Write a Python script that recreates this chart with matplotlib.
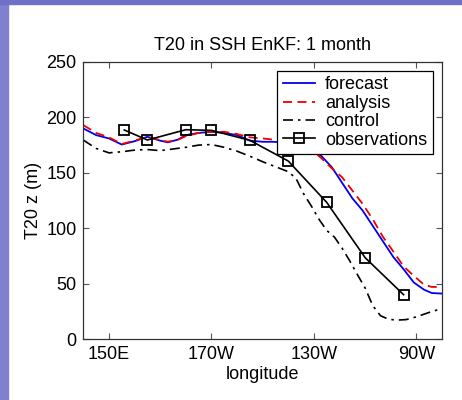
import numpy as np
import matplotlib
matplotlib.use("Agg")
import matplotlib.pyplot as plt
from matplotlib.patches import Rectangle

# longitude in degrees east (150E .. 90W -> 150 .. 270)
lon_model = [140, 145, 150, 155, 160, 165, 170, 173, 177, 180, 185, 190, 195, 200,
             205, 210, 214, 220, 225, 230, 233, 237, 241, 245, 249, 253, 257, 261,
             265, 269, 273, 276, 280]
forecast = [190, 184, 181, 175.5, 178.5, 182.5, 179, 177.5, 180, 184, 186, 187, 186, 184,
            179, 178, 178, 177, 174, 169, 165, 155, 141, 127, 116, 102, 88, 74,
            63, 51, 44.5, 41.5, 41]
analysis = [193, 186, 182, 176, 179, 182.5, 179.5, 178, 180, 183, 186, 187, 187, 185,
            182, 181, 180, 178, 175, 169, 163, 154, 146, 134, 122, 108, 92, 79,
            65.5, 57, 49, 47, 47]

lon_ctrl = [140, 145, 150, 155, 160, 165, 170, 175, 180, 185, 190, 195, 200, 205, 210,
            215, 220, 223, 226, 229, 232, 235, 238, 241, 244, 247, 250, 253, 256, 259,
            262, 266, 270, 275, 280]
control = [179.5, 172, 168, 169, 170.5, 171, 170, 171.5, 173, 175, 175.5, 173, 169.5, 165, 160,
           155.5, 151, 145, 131, 120, 108, 98, 92, 82, 70.5, 58, 46, 30, 21, 18,
           17, 17.5, 20, 24, 27.5]

# TAO mooring longitudes
lon_obs = [156, 165, 180, 190, 205, 220, 235, 250, 265]
obs = [188.6, 179.6, 188.9, 188.3, 179.3, 160.6, 123.3, 73.4, 40]

xticks = [150, 190, 230, 270]
xticklabels = ["150E", "170W", "130W", "90W"]
yticks = [0, 50, 100, 150, 200, 250]

plt.rcParams['font.family'] = ['Liberation Sans', 'DejaVu Sans']

fig = plt.figure(figsize=(4.62, 4.0), dpi=100)
fig.patch.set_facecolor('white')
# slide background strips
fig.patches.append(Rectangle((0, 0), 8 / 462, 1, transform=fig.transFigure,
                             color='#8080d0', zorder=0))
fig.patches.append(Rectangle((0, 1 - 4 / 400), 1, 4 / 400, transform=fig.transFigure,
                             color='#7070c8', zorder=0))

ax = fig.add_axes([0.1804, 0.1525, 0.7763, 0.6925])

ax.plot(lon_model, forecast, color='#0000ee', lw=1.3, label='forecast')
ax.plot(lon_model, analysis, color='#ee0000', lw=1.3, ls=(0, (5, 3)), label='analysis')
ax.plot(lon_ctrl, control, color='black', lw=1.2, ls=(0, (6, 3, 1.5, 3)), label='control')
ax.plot(lon_obs, obs, color='black', lw=1.2, marker='s', ms=7, mfc='none',
        mec='black', mew=1.3, label='observations')

ax.set_xlim(140, 280)
ax.set_ylim(0, 250)
ax.set_xticks(xticks)
ax.set_xticklabels(xticklabels)
ax.set_yticks(yticks)
ax.tick_params(direction='in', length=4, width=0.8, color='#555555',
               top=True, right=True, labelsize=13, pad=5)
for s in ax.spines.values():
    s.set_color('#333333')
    s.set_linewidth(0.9)

ax.set_title('T20 in SSH EnKF: 1 month', fontsize=13, pad=9)
ax.set_xlabel('longitude', fontsize=13, labelpad=2)
ax.set_ylabel('T20 z (m)', fontsize=13, labelpad=3)

leg = ax.legend(loc='upper right', bbox_to_anchor=(0.974, 0.9675), borderaxespad=0,
                fontsize=13, fancybox=False, framealpha=1, edgecolor='black',
                handlelength=1.8, labelspacing=0.08, borderpad=0.3, handletextpad=0.55)
leg.get_frame().set_linewidth(0.9)

fig.savefig('out.png', dpi=100)
